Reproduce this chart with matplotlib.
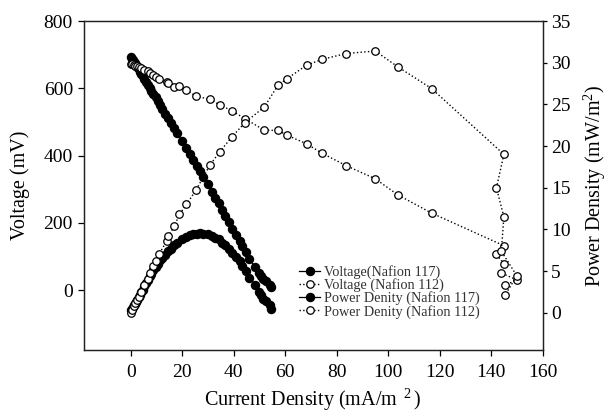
import matplotlib
matplotlib.use("Agg")
import matplotlib.pyplot as plt
from matplotlib.lines import Line2D

plt.rcParams['font.family'] = ['Liberation Serif', 'DejaVu Serif']
plt.rcParams['mathtext.fontset'] = 'custom'
plt.rcParams['mathtext.rm'] = 'Liberation Serif'

# ---- data ----
current_117 = [0.0, 0.4, 0.8, 1.2, 1.6, 2.0, 2.5, 3.0, 3.5, 4.0, 4.6, 5.2, 5.9, 6.6,
               7.3, 8.0, 8.8, 9.6, 10.5, 11.4, 12.3, 13.4, 14.5, 15.6, 16.8, 18.1,
               19.8, 21.5, 22.9, 24.2, 25.6, 26.9, 28.2, 29.8, 31.5, 32.8, 34.1,
               35.4, 36.7, 38.0, 39.3, 40.9, 42.5, 43.2, 44.7, 46.1, 48.2, 50.0,
               50.6, 51.2, 52.4, 54.0, 54.6]
voltage_117 = [692, 688, 684, 679, 674, 668, 662, 656, 649, 643, 636, 628, 619, 611,
               602, 593, 583, 573, 561, 550, 538, 524, 511, 497, 482, 466,
               444, 423, 405, 388, 370, 354, 336, 316, 293, 275, 258,
               238, 220, 202, 183, 163, 146, 130, 112, 92, 70, 50,
               41, 33, 28, 16, 9]
power_117 = [0.3, 0.5, 0.7, 0.9, 1.1, 1.3, 1.6, 1.9, 2.2, 2.5, 2.8, 3.2, 3.6, 4.0,
             4.4, 4.7, 5.1, 5.5, 5.9, 6.3, 6.6, 7.0, 7.4, 7.7, 8.1, 8.4,
             8.8, 9.1, 9.3, 9.4, 9.5, 9.55, 9.5, 9.4, 9.25, 9.0, 8.8,
             8.4, 8.1, 7.7, 7.2, 6.7, 6.2, 5.6, 5.0, 4.2, 3.4, 2.5,
             2.1, 1.7, 1.4, 0.9, 0.5]

current_112 = [0.0, 0.6, 1.2, 1.8, 2.4, 3.0, 3.9, 5.2, 6.5, 7.5, 8.8, 9.8, 11.1,
               13.9, 14.6, 16.9, 18.9, 21.6, 25.3, 30.7, 34.5, 39.3, 44.3, 51.9,
               57.2, 60.8, 68.3, 74.3, 83.7, 95.0, 103.8, 116.9, 145.0, 142.1,
               145.0, 144.0, 150.0, 145.4]
voltage_112 = [673, 671, 669, 667, 665, 663, 660, 655, 650, 645, 639, 635, 628,
               619, 615, 605, 608, 594, 577, 567, 551, 533, 510, 475,
               475, 460, 435, 407, 370, 331, 283, 229, 132, 106,
               79, 51, 30, 15]
power_112 = [0.0, 0.4, 0.8, 1.2, 1.6, 1.9, 2.5, 3.4, 4.1, 4.8, 5.6, 6.2, 7.1,
             8.6, 9.2, 10.4, 11.8, 13.0, 14.7, 17.7, 19.3, 21.1, 22.8, 24.7,
             27.3, 28.1, 29.7, 30.4, 31.1, 31.4, 29.5, 26.9, 19.0, 15.0,
             11.5, 7.4, 4.45, 2.1]

labels = ['Voltage(Nafion 117)', 'Voltage (Nafion 112)',
          'Power Denity (Nafion 117)', 'Power Denity (Nafion 112)']
x_ticks = [0, 20, 40, 60, 80, 100, 120, 140, 160]
v_ticks = [0, 200, 400, 600, 800]
p_ticks = [0, 5, 10, 15, 20, 25, 30, 35]

# ---- figure ----
fig = plt.figure(figsize=(6.09, 4.15), dpi=100)
ax = fig.add_axes([84/609, 1-350/415, (542.5-84)/609, (350-21)/415])
ax2 = ax.twinx()

filled = dict(color='black', marker='o', markersize=5.8, markerfacecolor='black',
              markeredgecolor='black', linewidth=0.9, linestyle='-')
hollow = dict(color='black', marker='o', markersize=5.4, markerfacecolor='white',
              markeredgecolor='black', markeredgewidth=0.9, linewidth=1.0, linestyle=':')

ax.plot(current_117, voltage_117, **filled)
ax.plot(current_112, voltage_112, **hollow)
ax2.plot(current_117, power_117, **filled)
ax2.plot(current_112, power_112, **hollow)

ax.set_xlim(-18.2, 160)
ax.set_ylim(-178, 800)
ax2.set_ylim(-4.45, 35)
ax.set_xticks(x_ticks)
ax.set_yticks(v_ticks)
ax2.set_yticks(p_ticks)

for a in (ax, ax2):
    for s in a.spines.values():
        s.set_linewidth(0.9)
        s.set_color('#222222')
ax.tick_params(axis='x', direction='out', length=4, width=0.9, labelsize=14, pad=6, top=False)
ax.tick_params(axis='y', direction='out', length=4, width=0.9, labelsize=14, pad=4)
ax2.tick_params(axis='y', direction='out', length=3, width=0.9, labelsize=14, pad=3)

ax.set_xlabel('Current Density (mA/m$\\ ^2\\,$)', fontsize=14.5, labelpad=4)
ax.set_ylabel('Voltage (mV)', fontsize=14.5, labelpad=10)
ax2.set_ylabel('Power Density (mW/m$^2$)', fontsize=14.5, labelpad=8)

handles = [Line2D([], [], **filled), Line2D([], [], **hollow),
           Line2D([], [], **filled), Line2D([], [], **hollow)]
leg = ax2.legend(handles, labels, loc='upper left',
                 bbox_to_anchor=((299-84)/(542.5-84), (350-265)/(350-21)),
                 frameon=False, fontsize=10.3, handlelength=1.5, handletextpad=0.25,
                 labelspacing=-0.05, borderpad=0, borderaxespad=0)
for t in leg.get_texts():
    t.set_color('#333333')

fig.savefig('out.png', dpi=100)
